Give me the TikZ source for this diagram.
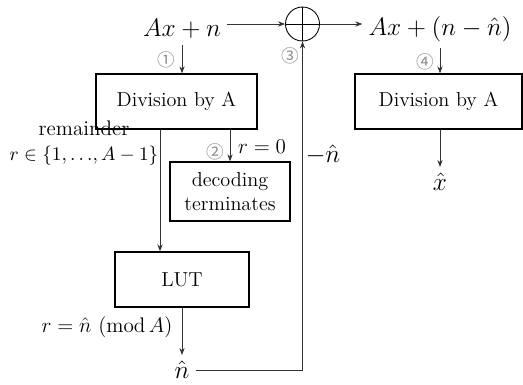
\documentclass[tikz,border=0pt]{standalone}
\usepackage{fontspec}
\newfontfamily\cjk{Noto Sans CJK SC}
\usetikzlibrary{arrows.meta}
\begin{document}
\begin{tikzpicture}[x=1cm,y=1cm, font=\fontsize{11.5}{14}\selectfont, >={Stealth[length=4pt,width=3pt]},
  blk/.style={draw, line width=0.7pt, inner sep=0pt, align=center},
  big/.style={font=\fontsize{13.5}{16}\selectfont},
  tag/.style={text=black!45, font=\cjk\fontsize{10}{12}\selectfont},
  wire/.style={draw=black!80, line width=0.45pt}]
\useasboundingbox (0,0) rectangle (10.46,-7.68);
\node[big] (in) at (3.64,-0.58) {$Ax+n$};
\node[draw, circle, minimum size=0.68cm, line width=0.5pt] (sum) at (6.05,-0.48) {};
\node[big] (out) at (8.80,-0.58) {$Ax+(n-\hat{n})$};
\node[blk, minimum width=3.22cm, minimum height=1.1cm] (div) at (3.53,-2.03) {Division by A};
\node[blk, minimum width=3.34cm, minimum height=1.1cm] (div2) at (8.77,-2.03) {Division by A};
\node[big] (xh) at (8.80,-3.64) {$\hat{x}$};
\node[blk, minimum width=2.4cm, minimum height=1.18cm] (dec) at (4.60,-3.83) {decoding\\terminates};
\node[blk, minimum width=2.68cm, minimum height=1.1cm] (lut) at (3.64,-5.59) {LUT};
\node[big] (nh) at (3.64,-7.40) {$\hat{n}$};
\node[align=center, font=\fontsize{11}{14}\selectfont] (rem) at (1.68,-2.86) {\large remainder\\$r\in\{1,{\ldots},A-1\}$};
\node[font=\large] (r0) at (5.24,-2.94) {$r=0$};
\node[big] (neg) at (6.46,-3.10) {$-\hat{n}$};
\node[font=\large] (mod) at (2.14,-6.54) {$r=\hat{n}\ (\mathrm{mod}\,A)$};
\node[tag] (t1) at (3.32,-1.20) {①};
\node[tag] (t2) at (4.30,-3.04) {②};
\node[tag] (t3) at (5.80,-1.12) {③};
\node[tag] (t4) at (8.50,-1.24) {④};
% adder cross
\draw[line width=0.5pt] (sum.north) -- (sum.south);
\draw[line width=0.5pt] (sum.west) -- (sum.east);
% signal path
\draw[wire,->] (in.east |- sum.west) -- (sum.west);
\draw[wire,->] (sum.east) -- (out.west |- sum.east);
\draw[wire,->] (in.south) -- (in.south |- div.north);
\draw[wire,->] (out.south) -- (out.south |- div2.north);
\draw[wire,->] (div2.south -| xh.north) -- (xh.north);
\draw[wire,->] ([xshift=-0.33cm]div.south) -- ([xshift=-0.33cm]div.south |- lut.north);
\draw[wire,->] (dec.north |- div.south) -- (dec.north);
\draw[wire,->] (lut.south) -- (nh.north);
\draw[wire,->] (nh.east) -- (nh.east -| sum.south) -- (sum.south);
\end{tikzpicture}
\end{document}
